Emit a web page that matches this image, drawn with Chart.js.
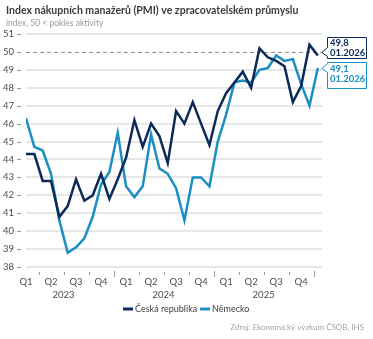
<!DOCTYPE html>
<html>
<head>
<meta charset="utf-8">
<script src="https://cdn.jsdelivr.net/npm/chart.js@4.4.1/dist/chart.umd.min.js"></script>
<style>
  html, body { margin: 0; padding: 0; background: #fff; }
  #wrap { width: 373px; height: 339px; }
</style>
</head>
<body>
<div id="wrap"><canvas id="pmiChart" width="373" height="339"></canvas></div>
<script>
// Manufacturing PMI, monthly
const months = [
  "02.2023", "03.2023", "04.2023", "05.2023", "06.2023", "07.2023",
  "08.2023", "09.2023", "10.2023", "11.2023", "12.2023",
  "01.2024", "02.2024", "03.2024", "04.2024", "05.2024", "06.2024",
  "07.2024", "08.2024", "09.2024", "10.2024", "11.2024", "12.2024",
  "01.2025", "02.2025", "03.2025", "04.2025", "05.2025", "06.2025",
  "07.2025", "08.2025", "09.2025", "10.2025", "11.2025", "12.2025",
  "01.2026",
];
const czech = [
  44.3, 44.3, 42.8, 42.8, 40.8, 41.4, 42.9, 41.7, 42.0, 43.2, 41.8,
  42.9, 44.1, 46.2, 44.7, 46.0, 45.3, 43.8, 46.7, 46.0, 47.2, 46.0, 44.8,
  46.7, 47.7, 48.3, 48.9, 48.0, 50.2, 49.7, 49.5, 49.2, 47.2, 48.1, 50.4,
  49.8,
];
const germany = [
  46.3, 44.7, 44.5, 43.2, 40.6, 38.8, 39.1, 39.6, 40.8, 42.6, 43.3,
  45.5, 42.5, 41.9, 42.5, 45.4, 43.5, 43.2, 42.4, 40.6, 43.0, 43.0, 42.5,
  45.0, 46.5, 48.3, 48.4, 48.3, 49.0, 49.1, 49.8, 49.5, 49.6, 48.2, 47.0,
  49.1,
];
const quarterLabels = ["Q1", "Q2", "Q3", "Q4"];
const years = ["2023", "2024", "2025"];
const yTicks = [38, 39, 40, 41, 42, 43, 44, 45, 46, 47, 48, 49, 50, 51];

const DARK = "#0c2a57";
const LIGHT = "#1b8ec4";
const FONT = "Lato, 'Open Sans', sans-serif";

// month label -> position in months since Jan 2023 (centre of the month)
function monthPos(label) {
  const [m, y] = label.split(".").map(Number);
  return (y - 2023) * 12 + (m - 1) + 0.5;
}

const decor = {
  id: "decor",
  beforeDatasetsDraw(chart) {
    const { ctx, chartArea: a, scales } = chart;
    // 50 = expansion threshold
    const y50 = scales.y.getPixelForValue(50);
    ctx.save();
    ctx.strokeStyle = "#8c8c8c";
    ctx.lineWidth = 1;
    ctx.setLineDash([4, 3]);
    ctx.beginPath();
    ctx.moveTo(a.left, y50 + 0.5);
    ctx.lineTo(a.right, y50 + 0.5);
    ctx.stroke();
    ctx.restore();
  },
  afterDraw(chart) {
    const { ctx, chartArea: a, scales } = chart;
    const x = scales.x, y = scales.y;
    ctx.save();

    // title + subtitle
    ctx.textBaseline = "alphabetic";
    ctx.textAlign = "left";
    ctx.fillStyle = "#3c3c3c";
    ctx.font = "bold 10.5px " + FONT;
    ctx.fillText("Index nákupních manažerů (PMI) ve zpracovatelském průmyslu", 6, 14);
    ctx.fillStyle = "#9a9a9a";
    ctx.font = "8.5px " + FONT;
    ctx.fillText("index, 50 < pokles aktivity", 6, 26);

    // small dashes next to y labels
    ctx.strokeStyle = "#9a9a9a";
    ctx.lineWidth = 1;
    yTicks.forEach((v) => {
      const py = Math.round(y.getPixelForValue(v)) + 0.5;
      ctx.beginPath();
      ctx.moveTo(17, py);
      ctx.lineTo(21, py);
      ctx.stroke();
    });

    // quarter separators, taller at year ends
    for (let m = 3; m <= 36; m += 3) {
      const px = Math.round(x.getPixelForValue(m)) + 0.5;
      const yearEnd = m % 12 === 0;
      ctx.beginPath();
      ctx.moveTo(px, a.bottom + (yearEnd ? 4 : 5));
      ctx.lineTo(px, a.bottom + (yearEnd ? 10 : 8));
      ctx.stroke();
    }

    // year labels under the quarters
    ctx.fillStyle = "#4b4b4b";
    ctx.font = "9.5px " + FONT;
    ctx.textAlign = "center";
    ctx.textBaseline = "middle";
    years.forEach((yr, i) => {
      ctx.fillText(yr, x.getPixelForValue(i * 12 + 6), 295);
    });

    // legend
    const legend = [
      { label: "Česká republika", color: DARK, x: 123 },
      { label: "Německo", color: LIGHT, x: 200 },
    ];
    ctx.textAlign = "left";
    ctx.font = "9px " + FONT;
    legend.forEach((l) => {
      ctx.strokeStyle = l.color;
      ctx.lineWidth = 3;
      ctx.beginPath();
      ctx.moveTo(l.x, 309);
      ctx.lineTo(l.x + 10, 309);
      ctx.stroke();
      ctx.fillStyle = "#3c3c3c";
      ctx.fillText(l.label, l.x + 12, 309);
    });

    // source
    ctx.textAlign = "right";
    ctx.fillStyle = "#a3a3a3";
    ctx.font = "8px " + FONT;
    ctx.fillText("Zdroj: Ekonomický výzkum ČSOB, IHS", 364, 327);

    // last-value callouts
    const boxes = [
      { ds: 0, color: DARK, top: 37, h: 21 },
      { ds: 1, color: LIGHT, top: 62, h: 26 },
    ];
    boxes.forEach((b) => {
      const meta = chart.getDatasetMeta(b.ds);
      const pt = meta.data[meta.data.length - 1];
      const values = b.ds === 0 ? czech : germany;
      const last = values[values.length - 1];
      const left = 327.5, right = 366.5, top = b.top + 0.5, bottom = b.top + b.h + 0.5;
      const tipY = Math.min(Math.max(pt.y - 2, top + 6), bottom - 6);
      ctx.fillStyle = "#fff";
      ctx.strokeStyle = b.color;
      ctx.lineWidth = 1;
      ctx.beginPath();
      ctx.moveTo(left, top);
      ctx.lineTo(right, top);
      ctx.lineTo(right, bottom);
      ctx.lineTo(left, bottom);
      ctx.lineTo(left, tipY + 4);
      ctx.lineTo(pt.x + 4, tipY);
      ctx.lineTo(left, tipY - 5);
      ctx.closePath();
      ctx.fill();
      ctx.stroke();
      ctx.fillStyle = b.color;
      ctx.font = "bold 9.5px " + FONT;
      ctx.textAlign = "left";
      ctx.textBaseline = "middle";
      const firstY = b.top + (b.h > 22 ? 7 : 6);
      ctx.fillText(last.toFixed(1).replace(".", ","), 330, firstY);
      ctx.fillText(months[months.length - 1], 330, firstY + 10);
    });

    ctx.restore();
  },
};

const ctx = document.getElementById("pmiChart").getContext("2d");
new Chart(ctx, {
  type: "line",
  data: {
    datasets: [
      {
        label: "Česká republika",
        data: czech.map((v, i) => ({ x: monthPos(months[i]), y: v })),
        borderColor: DARK,
        borderWidth: 2.5,
        pointRadius: 0,
        tension: 0,
      },
      {
        label: "Německo",
        data: germany.map((v, i) => ({ x: monthPos(months[i]), y: v })),
        borderColor: LIGHT,
        borderWidth: 2.5,
        pointRadius: 0,
        tension: 0,
      },
    ],
  },
  options: {
    responsive: false,
    animation: false,
    layout: {
      padding: { top: 34, right: 51, bottom: 0, left: 0 },
    },
    plugins: {
      legend: { display: false },
      tooltip: { enabled: false },
    },
    scales: {
      x: {
        type: "linear",
        min: 1.5,
        max: 37,
        grid: { display: false },
        border: { display: false },
        afterBuildTicks: (scale) => {
          const ticks = [];
          for (let q = 0; q < 12; q++) ticks.push({ value: q * 3 + 1.5 });
          scale.ticks = ticks;
        },
        afterFit: (scale) => {
          scale.height = 72;
        },
        ticks: {
          autoSkip: false,
          maxRotation: 0,
          padding: 1,
          color: "#4b4b4b",
          font: { family: FONT, size: 9.5 },
          callback: (v) => quarterLabels[Math.floor(v / 3) % 4],
        },
      },
      y: {
        min: 38,
        max: 51,
        afterBuildTicks: (scale) => {
          scale.ticks = yTicks.map((v) => ({ value: v }));
        },
        afterFit: (scale) => {
          scale.width = 26;
        },
        border: { display: false },
        grid: {
          drawTicks: false,
          lineWidth: 2,
          color: (c) => (c.tick && c.tick.value === 50 ? "rgba(0,0,0,0)" : "#e7e7e7"),
        },
        ticks: {
          padding: 12,
          color: "#4b4b4b",
          font: { family: FONT, size: 9.5 },
        },
      },
    },
  },
  plugins: [decor],
});
</script>
</body>
</html>
